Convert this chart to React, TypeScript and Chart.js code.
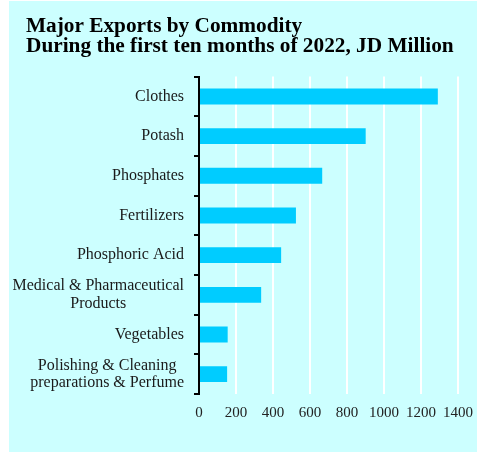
import React, { useEffect, useRef } from "react";
import { Chart, registerables } from "chart.js";

Chart.register(...registerables);

const titleLines = ["Major Exports by Commodity", "During the first ten months of 2022, JD Million"];
const categories = [
  "Clothes",
  "Potash",
  "Phosphates",
  "Fertilizers",
  "Phosphoric Acid",
  "Medical & Pharmaceutical\nProducts",
  "Vegetables",
  "Polishing & Cleaning\npreparations & Perfume",
];
const exportValues = [1291, 901, 666, 524, 444, 336, 155, 152];
const xMin = 0;
const xMax = 1400;
const xStep = 200;

const FONT = '"Liberation Serif", "Times New Roman", serif';

const yLabelPlugin = {
  id: "yLabels",
  afterDraw(chart: any) {
    const ys = chart.scales.y;
    const ctx = chart.ctx;
    ctx.save();
    ctx.font = `16px ${FONT}`;
    ctx.fillStyle = "#1a1a1a";
    ctx.textBaseline = "middle";
    ctx.textAlign = "center";
    const right = chart.chartArea.left - 15;
    const lh = 17.7;
    (chart.data.labels as string[]).forEach((lab, i) => {
      const lines = String(lab).split("\n");
      const maxW = Math.max(...lines.map((l) => ctx.measureText(l).width));
      const cx = right - maxW / 2;
      const cy = ys.getPixelForValue(i);
      lines.forEach((l, j) => ctx.fillText(l, cx, cy + (j - (lines.length - 1) / 2) * lh));
    });
    ctx.restore();
  },
};

export default function App() {
  const ref = useRef<HTMLCanvasElement>(null);
  useEffect(() => {
    if (!ref.current) return;
    Chart.defaults.font.family = FONT;
    const chart = new Chart(ref.current, {
      type: "bar",
      data: {
        labels: categories,
        datasets: [
          {
            data: exportValues,
            backgroundColor: "#00CCFF",
            borderWidth: 0,
            categoryPercentage: 1,
            barPercentage: 0.4,
          },
        ],
      },
      plugins: [yLabelPlugin],
      options: {
        indexAxis: "y",
        responsive: false,
        animation: false,
        layout: { padding: { left: 17, right: 19, top: 0, bottom: 20 } },
        plugins: {
          legend: { display: false },
          tooltip: { enabled: false },
          title: {
            display: true,
            text: titleLines,
            align: "start",
            color: "#000",
            font: { family: FONT, size: 21.3, weight: "bold", lineHeight: 0.93 },
            padding: { top: 16, bottom: 20 },
          },
        },
        scales: {
          x: {
            min: xMin,
            max: xMax,
            ticks: {
              stepSize: xStep,
              color: "#222",
              font: { family: FONT, size: 15 },
              padding: 10,
              maxRotation: 0,
              callback: (v: any) => String(v),
            },
            grid: { color: "#FFFFFF", lineWidth: 2, drawTicks: false },
            border: { display: false },
            afterFit: (scale: any) => {
              scale.paddingRight = 0;
              scale.paddingLeft = 0;
            },
          },
          y: {
            ticks: { display: false },
            grid: {
              offset: true,
              drawOnChartArea: false,
              drawTicks: true,
              tickLength: 5,
              color: "#000",
              lineWidth: 2,
            },
            border: { display: true, color: "#000", width: 2 },
            afterFit: (scale: any) => {
              scale.width = 173;
            },
          },
        },
      },
    });
    return () => chart.destroy();
  }, []);
  return (
    <div
      style={{
        position: "absolute",
        left: 9,
        top: 1,
        width: 468,
        height: 451,
        background: "#CCFFFF",
      }}
    >
      <canvas ref={ref} width={468} height={451} />
    </div>
  );
}
